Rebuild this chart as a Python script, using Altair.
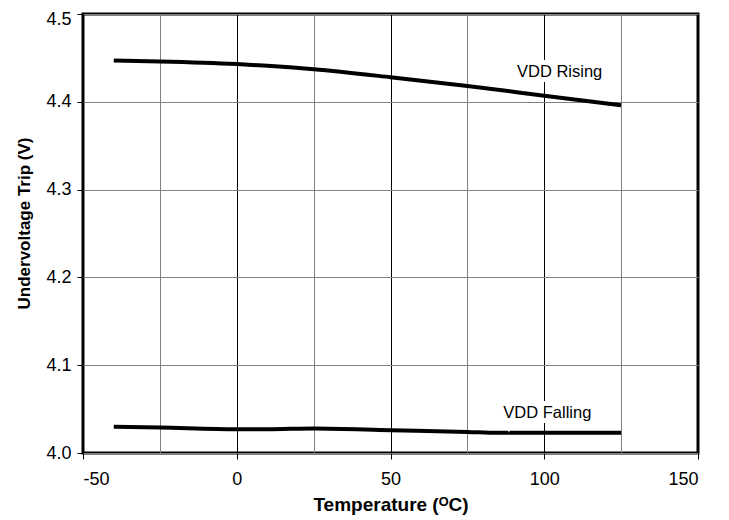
import altair as alt
import pandas as pd

rising_t = [-40, -25, 0, 10, 25, 50, 75, 100, 125]
rising_v = [4.447, 4.446, 4.443, 4.441, 4.437, 4.428, 4.418, 4.407, 4.396]
falling_t = [-40, -25, 0, 10, 25, 50, 75, 85, 100, 125]
falling_v = [4.030, 4.029, 4.027, 4.027, 4.028, 4.026, 4.024, 4.023, 4.023, 4.023]

label_text = ["VDD Rising", "VDD Falling"]
label_t = [105.0, 101.0]
label_v = [4.434, 4.046]

x_ticks = [-50, -25, 0, 25, 50, 75, 100, 125, 150]
y_ticks = [4.0, 4.1, 4.2, 4.3, 4.4, 4.5]

df = pd.concat([
    pd.DataFrame({"t": rising_t, "v": rising_v, "s": "VDD Rising"}),
    pd.DataFrame({"t": falling_t, "v": falling_v, "s": "VDD Falling"}),
])
lab = pd.DataFrame({"text": label_text, "t": label_t, "v": label_v})

FONT = "Liberation Sans"

xs = alt.Scale(domain=[-50, 150], nice=False, zero=False)
ys = alt.Scale(domain=[4.0, 4.5], nice=False, zero=False)

lines = alt.Chart(df).mark_line(color="black", strokeWidth=4, interpolate="monotone").encode(
    x=alt.X("t:Q", scale=xs, axis=alt.Axis(
        values=x_ticks,
        title="Temperature (ᴼC)",
        labelExpr="datum.value % 50 === 0 ? '' + datum.value : ''",
        grid=True,
        gridColor=alt.condition("datum.value % 50 === 0", alt.value("#000000"), alt.value("#808080")),
        gridWidth=1,
        tickOpacity=alt.condition("datum.value % 50 === 0", alt.value(1), alt.value(0)),
        tickColor="black", tickSize=6, tickWidth=1,
        domain=False,
        labelFont=FONT, labelFontSize=18, labelColor="black", labelPadding=11,
        titleFont=FONT, titleFontSize=19, titleFontWeight="bold", titleColor="black", titlePadding=7,
    )),
    y=alt.Y("v:Q", scale=ys, axis=alt.Axis(
        values=y_ticks, format=".1f",
        title="Undervoltage Trip (V)",
        titleY=209,
        grid=True, gridColor="#808080", gridWidth=1,
        tickColor="black", tickSize=6, tickWidth=1,
        domain=False,
        labelOffset=alt.condition("datum.value >= 4.5", alt.value(5), alt.value(0)),
        labelFont=FONT, labelFontSize=18, labelColor="black", labelPadding=6,
        titleFont=FONT, titleFontSize=17, titleFontWeight="bold", titleColor="black", titlePadding=12,
    )),
    detail="s:N",
)

halo = alt.Chart(lab).mark_text(font=FONT, fontSize=16.5, color="white", stroke="white", strokeWidth=10).encode(
    x=alt.X("t:Q", scale=xs),
    y=alt.Y("v:Q", scale=ys),
    text="text:N",
)
texts = alt.Chart(lab).mark_text(font=FONT, fontSize=16.5, color="black").encode(
    x=alt.X("t:Q", scale=xs),
    y=alt.Y("v:Q", scale=ys),
    text="text:N",
)

chart = alt.layer(lines, halo, texts).properties(
    width=615, height=439,
    background="white",
    autosize=alt.AutoSizeParams(type="none"),
    padding={"left": 75, "top": 6, "right": 23, "bottom": 65},
).configure_view(stroke="black", strokeWidth=3)

chart.save("out.html", embed_options={"renderer": "svg", "actions": False})
